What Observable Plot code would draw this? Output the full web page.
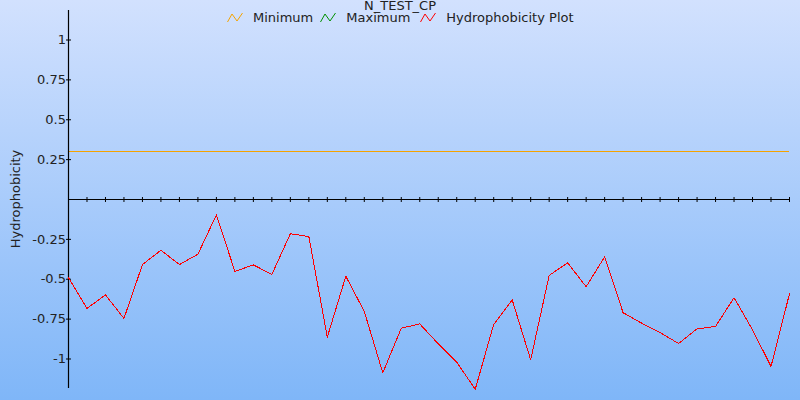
<!DOCTYPE html>
<html>
<head>
<meta charset="utf-8">
<script src="https://cdn.jsdelivr.net/npm/d3@7"></script>
<script src="https://cdn.jsdelivr.net/npm/@observablehq/plot@0.6"></script>
<style>
  html, body { margin: 0; padding: 0; }
  #wrap {
    position: relative; width: 800px; height: 400px; overflow: hidden;
    background: linear-gradient(#d2e1fe, #7fb6f8);
    font-family: "DejaVu Sans", sans-serif; color: #222;
  }
  #wrap > svg { position: absolute; left: 0; top: 0; }
  #title { position: absolute; left: 0; width: 800px; top: -2px; text-align: center; font-size: 13px; line-height: 15px; }
  #legend { position: absolute; left: 227px; top: 10px; font-size: 13px; line-height: 15px; white-space: nowrap; }
  .item { display: inline-block; margin-right: 7px; }
  .item:nth-child(2) { margin-right: 10px; }
  .item svg { vertical-align: -1px; margin-right: 10px; }
  #ylabel { position: absolute; left: 14.5px; top: 199px; font-size: 13px; line-height: 15px;
    transform: translate(-50%, -50%) rotate(-90deg); white-space: nowrap; }
</style>
</head>
<body>
<div id="wrap">
  <div id="title"></div>
  <div id="legend"></div>
  <div id="ylabel"></div>
</div>
<script>
// ---- data ----
const chartTitle = "N_TEST_CP";
const yTitle = "Hydrophobicity";
const seriesNames = ["Minimum", "Maximum", "Hydrophobicity Plot"];
const seriesColors = ["#f5a300", "#009000", "#ff0000"];
const positions = [7, 8, 9, 10, 11, 12, 13, 14, 15, 16, 17, 18, 19, 20, 21, 22, 23, 24, 25, 26,
                   27, 28, 29, 30, 31, 32, 33, 34, 35, 36, 37, 38, 39, 40, 41, 42, 43, 44, 45, 46];
const hydro = [-0.49, -0.683, -0.598, -0.746, -0.408, -0.318, -0.408, -0.343, -0.096, -0.451,
               -0.41, -0.47, -0.215, -0.232, -0.863, -0.481, -0.702, -1.087, -0.807, -0.78,
               -0.905, -1.02, -1.19, -0.784, -0.629, -1.005, -0.476, -0.397, -0.547, -0.36,
               -0.71, -0.775, -0.834, -0.903, -0.811, -0.796, -0.616, -0.817, -1.047, -0.591];
const minimum = [0.3];
const yTicks = [-1, -0.75, -0.5, -0.25, 0.25, 0.5, 0.75, 1];

// ---- text ----
document.getElementById("title").textContent = chartTitle;
document.getElementById("ylabel").textContent = yTitle;
const legend = document.getElementById("legend");
seriesNames.forEach((name, i) => {
  const span = document.createElement("span");
  span.className = "item";
  span.innerHTML = `<svg width="16" height="11" viewBox="0 0 16 11"><polyline points="0.5,10 5,2 10,9 15.5,1" fill="none" stroke="${seriesColors[i]}" stroke-width="1"/></svg>${name}`;
  legend.appendChild(span);
});

// custom small vertical tick symbol
const vtick = { draw(ctx) { ctx.moveTo(0, -2.5); ctx.lineTo(0, 2.5); } };

const chart = Plot.plot({
  width: 800,
  height: 400,
  marginLeft: 68,
  marginRight: 11,
  marginTop: 10,
  marginBottom: 12,
  style: { background: "transparent", fontFamily: "DejaVu Sans, sans-serif", fontSize: "13px", color: "#222", overflow: "visible" },
  x: { domain: [positions[0], positions[positions.length - 1]] },
  y: { domain: [-1.185, 1.185] },
  marks: [
    Plot.ruleY(minimum, { stroke: seriesColors[0], strokeWidth: 1, shapeRendering: "crispEdges" }),
    Plot.ruleY([0], { stroke: "black", strokeWidth: 1.2 }),
    Plot.ruleX([positions[0]], { stroke: "black", strokeWidth: 1.2 }),
    Plot.dot(positions.slice(1), { x: d => d, y: 0, symbol: vtick, stroke: "black", fill: "none", strokeWidth: 1 }),
    Plot.axisY({ ticks: yTicks, tickSize: 5, dx: 3, tickPadding: 0.5, tickFormat: d => String(d), label: null, stroke: "black" }),
    Plot.axisX({ ticks: [], label: null }),
    Plot.line(hydro, { x: (d, i) => positions[i], y: d => d, stroke: seriesColors[2], strokeWidth: 1, shapeRendering: "crispEdges" })
  ]
});
document.getElementById("wrap").insertBefore(chart, document.getElementById("title"));
</script>
</body>
</html>
